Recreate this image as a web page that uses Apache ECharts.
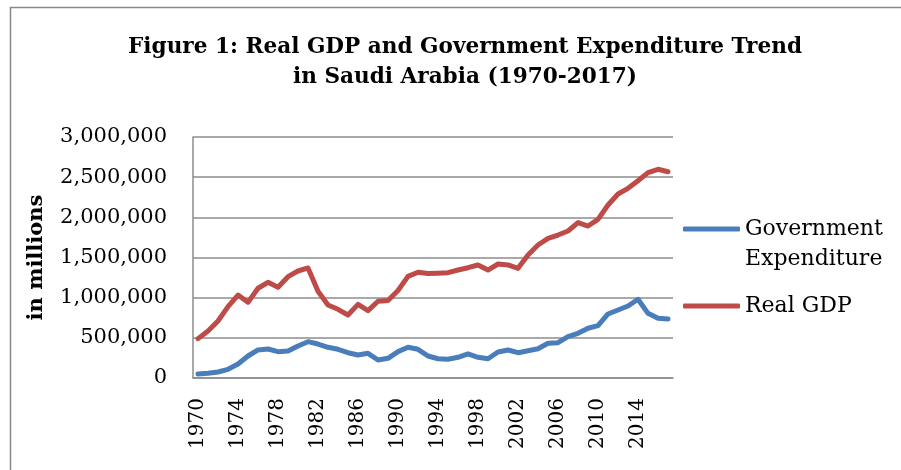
<!DOCTYPE html>
<html>
<head>
<meta charset="utf-8">
<script src="https://cdn.jsdelivr.net/npm/echarts@6/dist/echarts.min.js"></script>
<style>
    html, body { margin: 0; padding: 0; background: #fff; }
    #chart { width: 901px; height: 470px; }
</style>
</head>
<body>
<div id="chart"></div>
<script>
// Années (1970-2017)
const years = [];
for (let y = 1970; y <= 2017; y++) years.push(String(y));

// Dépenses publiques (en millions)
const governmentExpenditure = [
    50000, 58000, 75000, 108000, 174000, 274000, 349000, 361000, 328000, 336000,
    398000, 452000, 423000, 382000, 357000, 315000, 286000, 307000, 224000, 245000,
    328000, 382000, 357000, 274000, 240000, 233000, 258000, 299000, 258000, 240000,
    324000, 349000, 315000, 340000, 365000, 432000, 440000, 515000, 556000, 619000,
    651000, 797000, 846000, 896000, 980000, 805000, 743000, 734000
];

// PIB réel (en millions)
const realGDP = [
    490000, 585000, 710000, 888000, 1033000, 942000, 1117000, 1191000, 1129000, 1261000,
    1332000, 1370000, 1080000, 909000, 855000, 784000, 917000, 838000, 955000, 965000,
    1090000, 1265000, 1317000, 1300000, 1305000, 1311000, 1344000, 1373000, 1407000, 1344000,
    1419000, 1407000, 1365000, 1531000, 1656000, 1739000, 1780000, 1830000, 1934000, 1892000,
    1975000, 2154000, 2290000, 2361000, 2456000, 2556000, 2598000, 2568000
];

const serif = "'DejaVu Serif', 'Liberation Serif', serif";
const gridColor = "#8c8c8c";

const chart = echarts.init(document.getElementById("chart"));

chart.setOption({
    animation: false,
    textStyle: { fontFamily: serif },
    title: {
        text: "Figure 1: Real GDP and Government Expenditure Trend\nin Saudi Arabia (1970-2017)",
        left: 460,
        top: 27,
        textAlign: "center",
        textStyle: {
            fontFamily: serif,
            fontWeight: "bold",
            fontSize: 21.6,
            lineHeight: 30,
            color: "#000"
        }
    },
    // Cadre du graphique (bord supérieur et gauche)
    graphic: [{
        type: "rect",
        shape: { x: 10.5, y: 7.5, width: 1000, height: 1000 },
        style: { fill: "none", stroke: "#888", lineWidth: 1.5 },
        silent: true
    }],
    legend: {
        orient: "vertical",
        left: 683,
        top: 184,
        padding: 0,
        itemWidth: 57,
        itemHeight: 5,
        itemGap: 17,
        itemTextGap: 4,
        icon: "roundRect",
        // Ligne vide en tête : l'icône se retrouve alignée sur "Government"
        formatter: (name) => name === "Government Expenditure" ? "\nGovernment\nExpenditure" : name,
        textStyle: {
            fontFamily: serif,
            fontSize: 22,
            lineHeight: 30,
            color: "#000"
        },
        data: ["Government Expenditure", "Real GDP"]
    },
    grid: {
        left: 193,
        right: 228,
        top: 137,
        bottom: 92
    },
    xAxis: {
        type: "category",
        data: years,
        boundaryGap: true,
        axisLine: { lineStyle: { color: gridColor, width: 1.5 } },
        axisTick: { show: false },
        axisLabel: {
            interval: 3,
            rotate: 90,
            margin: 20,
            fontSize: 20,
            color: "#000",
            fontFamily: serif
        }
    },
    yAxis: {
        type: "value",
        min: 0,
        max: 3000000,
        interval: 500000,
        name: "in millions",
        nameLocation: "middle",
        nameGap: 146,
        nameTextStyle: {
            fontFamily: serif,
            fontWeight: "bold",
            fontSize: 21,
            color: "#000"
        },
        axisLine: { show: true, lineStyle: { color: gridColor, width: 1.5 } },
        axisTick: { show: false },
        splitLine: { lineStyle: { color: gridColor, width: 1.5 } },
        axisLabel: {
            margin: 26,
            fontSize: 21,
            color: "#000",
            fontFamily: serif,
            formatter: (v) => v.toLocaleString("en-US")
        }
    },
    series: [
        {
            name: "Government Expenditure",
            type: "line",
            data: governmentExpenditure,
            showSymbol: false,
            symbol: "none",
            color: "#4a7ebb",
            lineStyle: { width: 5, cap: "round", join: "round" }
        },
        {
            name: "Real GDP",
            type: "line",
            data: realGDP,
            showSymbol: false,
            symbol: "none",
            color: "#be4b48",
            lineStyle: { width: 5, cap: "round", join: "round" }
        }
    ]
});
</script>
</body>
</html>
